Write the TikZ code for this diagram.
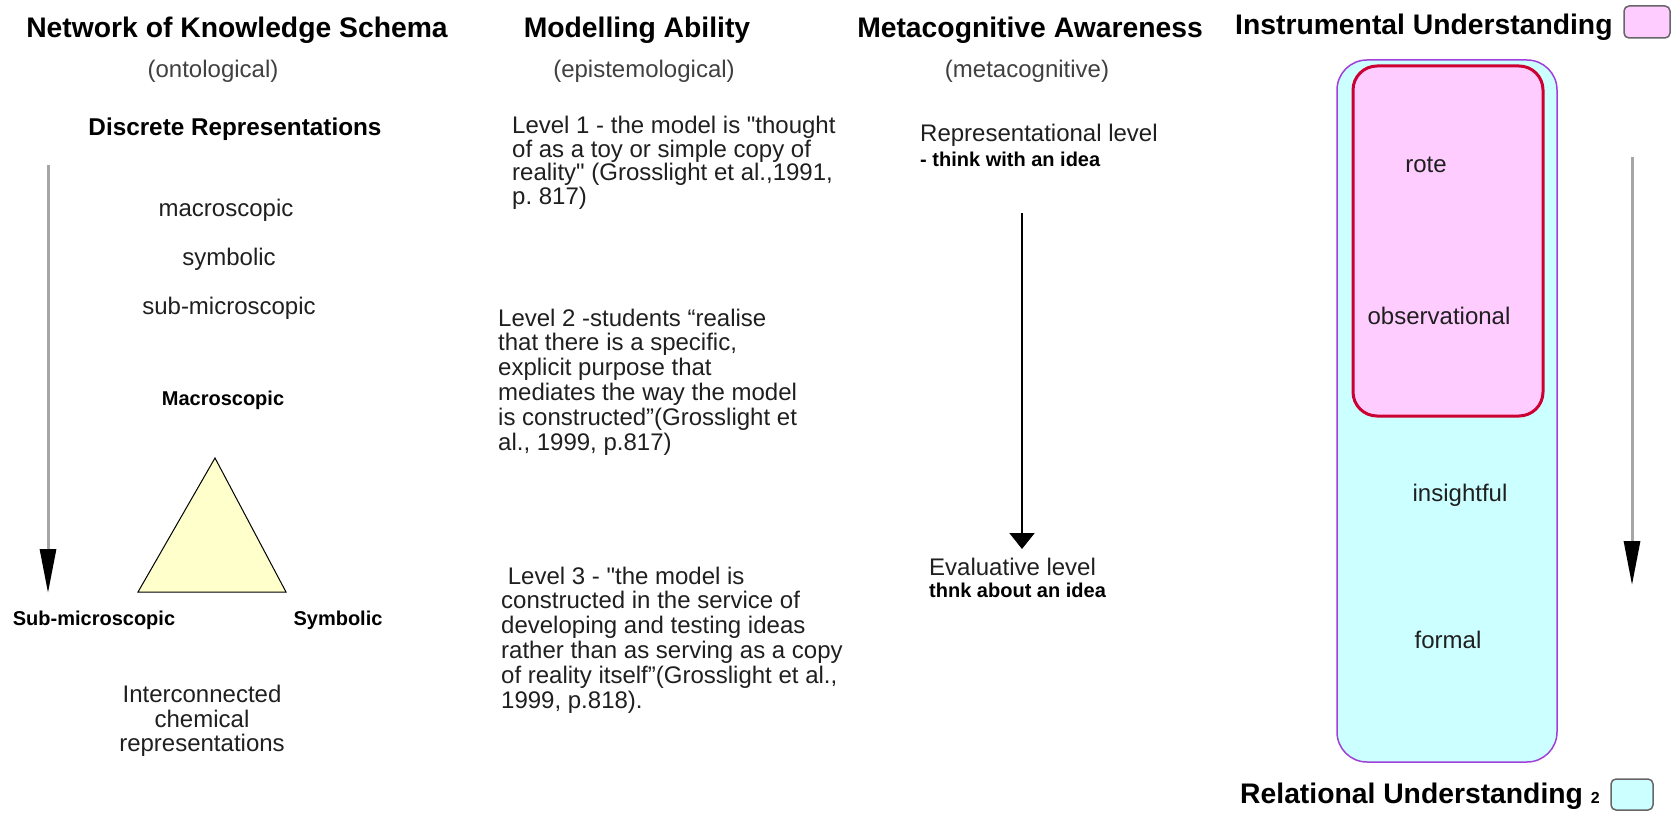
\documentclass[tikz,border=0pt]{standalone}
\usepackage{fontspec}
\setmainfont{Liberation Sans}
\usetikzlibrary{arrows.meta, positioning}
\frenchspacing

\definecolor{instpink}{HTML}{FFCCFF}
\definecolor{instred}{HTML}{CC0033}
\definecolor{relcyan}{HTML}{CCFFFF}
\definecolor{relpurple}{HTML}{A040D8}
\definecolor{trifill}{HTML}{FFFFCC}

\begin{document}
\begin{tikzpicture}[
    x=1pt, y=-1pt,
    heading/.style={font=\fontsize{28.3}{34}\selectfont\bfseries, inner sep=0pt, anchor=base},
    sub/.style={font=\fontsize{24}{24}\selectfont, text=black!75, inner sep=0pt, anchor=base},
    plain/.style={font=\fontsize{24}{24.5}\selectfont, text=black!88, inner sep=0pt, anchor=base},
    tag/.style={font=\fontsize{20}{20}\selectfont\bfseries, inner sep=0pt, anchor=base},
    para/.style={font=\fontsize{24}{24.8}\selectfont, text=black!88, inner sep=0pt, align=left, anchor=north west},
    flow/.style={draw=gray!70, line width=3pt, -{Triangle[length=44pt, width=16pt, color=black]}},
    legend/.style={draw=black!60, line width=1.5pt, rounded corners=5pt},
]
\useasboundingbox (0,0) rectangle (1672,813);

% ontological column
\node[heading] (schema) at (237,38) {Network of Knowledge Schema};
\node[sub] (onto) at (213,78) {(ontological)};
\node[heading, font=\fontsize{24.3}{28}\selectfont\bfseries] (discrete) at (235,136) {Discrete Representations};
\node[plain] (macro) at (226,216) {macroscopic};
\node[plain] (symb) at (229,265) {symbolic};
\node[plain] (submicro) at (229,314) {sub-microscopic};
\node[tag] (Macro) at (223,405) {Macroscopic};
\coordinate (tritop) at (215,458);
\coordinate (trileft) at (138,592);
\coordinate (triright) at (286,592);
\draw[fill=trifill, line width=1pt] (tritop) -- (trileft) -- (triright) -- cycle;
\node[tag] (Submicro) at (94,625) {Sub-microscopic};
\node[tag] (Symb) at (338,625) {Symbolic};
\node[plain, align=center, anchor=north] (inter) at (202,685) {Interconnected\\chemical\\representations};
\coordinate (dtop) at (48,165);
\coordinate (dbot) at (48,593);
\draw[flow] (dtop) -- (dbot);

% epistemological column
\node[heading] (model) at (637,38) {Modelling Ability};
\node[sub] (episte) at (644,78) {(epistemological)};
\node[para, font=\fontsize{24}{23.5}\selectfont] (lev1) at (512,116) {Level 1 - the model is \textquotedbl thought\\of as a toy or simple copy of\\reality\textquotedbl\ (Grosslight et al.,1991,\\p. 817)};
\node[para] (lev2) at (498,308.5) {Level 2 -students “realise\\that there is a specific,\\explicit purpose that\\mediates the way the model\\is constructed”(Grosslight et\\al., 1999, p.817)};
\node[para] (lev3) at (501,566.5) {\ Level 3 - \textquotedbl the model is\\constructed in the service of\\developing and testing ideas\\rather than as serving as a copy\\of reality itself”(Grosslight et al.,\\1999, p.818).};

% metacognitive column
\node[heading] (meta) at (1030,38) {Metacognitive Awareness};
\node[sub] (metac) at (1027,78) {(metacognitive)};
\node[plain, anchor=base west] (repr) at (920,142) {Representational level};
\node[tag, anchor=base west] (withidea) at ([yshift=-25pt]repr.base west) {- think with an idea};
\node[plain, anchor=base west] (eval) at (929,575) {Evaluative level};
\node[tag, anchor=base west] (aboutidea) at ([yshift=-22pt]eval.base west) {thnk about an idea};
\coordinate (etop) at (1022,213);
\coordinate (ebot) at (1022,549);
\draw[line width=2pt, -{Triangle[length=16pt, width=25pt]}] (etop) -- (ebot);

% understanding column
\node[heading, anchor=base west] (instr) at (1235,35) {Instrumental Understanding};
\draw[legend, fill=instpink] (1624,6) rectangle (1670,38);
\draw[draw=relpurple, line width=1.5pt, fill=relcyan, rounded corners=30pt] (1337,60) rectangle (1557,762);
\draw[draw=instred, line width=3pt, fill=instpink, rounded corners=24pt] (1353,66) rectangle (1543,416);
\node[plain] (rote) at (1426,173) {rote};
\node[plain] (obs) at (1439,324) {observational};
\node[plain] (insight) at (1460,501) {insightful};
\node[plain] (formal) at (1448,648) {formal};
\coordinate (rtop) at (1632,157);
\coordinate (rbot) at (1632,585);
\draw[flow] (rtop) -- (rbot);
\node[heading, anchor=base west] (rel) at (1240,803) {Relational Understanding {\fontsize{16}{16}\selectfont 2}};
\draw[legend, fill=relcyan] (1611,779) rectangle (1653,810);
\end{tikzpicture}
\end{document}
